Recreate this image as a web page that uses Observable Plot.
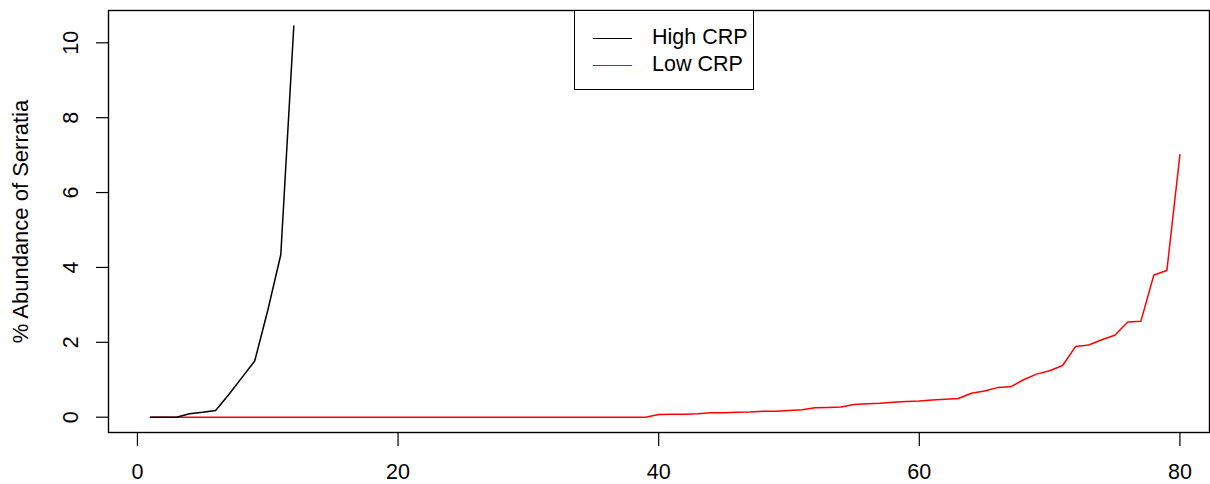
<!DOCTYPE html>
<html>
<head>
<meta charset="utf-8">
<script src="https://cdn.jsdelivr.net/npm/d3@7"></script>
<script src="https://cdn.jsdelivr.net/npm/@observablehq/plot@0.6"></script>
<style>
  html, body { margin: 0; padding: 0; background: #fff; }
  #wrap { position: relative; width: 1210px; height: 484px; font-family: "Liberation Sans", Arial, sans-serif; }
  #legend { position: absolute; left: 574px; top: 10px; width: 180px; height: 80px; box-sizing: border-box;
            border: 1.3px solid #000; background: #fff; }
  .row { position: absolute; left: 0; height: 0; }
  .seg { position: absolute; left: 18px; width: 39px; top: 0; border-top: 1.3px solid #000; }
  .lab { position: absolute; left: 77px; top: -13px; font-size: 21.5px; line-height: 25px; white-space: nowrap; color: #000; }
</style>
</head>
<body>
<div id="wrap"></div>
<script>
// Series values (index = sample rank, starting at 1)
const highCRP = [0, 0, 0, 0.09, 0.13, 0.18, 0.6, 1.05, 1.5, 2.85, 4.34, 10.45];
const lowCRPZeros = 39;
const lowCRPNonZero = [0.07, 0.08, 0.08, 0.09, 0.12, 0.12, 0.13, 0.14, 0.16, 0.16,
  0.18, 0.20, 0.25, 0.26, 0.27, 0.34, 0.36, 0.37, 0.40, 0.42,
  0.43, 0.46, 0.48, 0.50, 0.64, 0.70, 0.79, 0.81, 1.00, 1.15,
  1.24, 1.38, 1.89, 1.93, 2.07, 2.19, 2.54, 2.56, 3.80, 3.92, 7.01];
const lowCRP = Array(lowCRPZeros).fill(0).concat(lowCRPNonZero);
const seriesNames = ["High CRP", "Low CRP"];
const seriesColors = ["#000000", "#ff0000"];
const xTicks = [0, 20, 40, 60, 80];
const yTicks = [0, 2, 4, 6, 8, 10];
const yLabel = "% Abundance of Serratia";

const highData = highCRP.map((v, i) => ({x: i + 1, y: v}));
const lowData = lowCRP.map((v, i) => ({x: i + 1, y: v}));

const chart = Plot.plot({
  width: 1210,
  height: 484,
  marginLeft: 108,
  marginRight: 1,
  marginTop: 10,
  marginBottom: 52,
  style: {fontFamily: "Liberation Sans, Arial, sans-serif", fontSize: "21.5px", background: "#fff", color: "#000"},
  x: {domain: [-2.22, 82.27]},
  y: {domain: [-0.409, 10.863]},
  marks: [
    Plot.frame({stroke: "#000", strokeWidth: 1.4}),
    Plot.axisX({ticks: xTicks, tickSize: 14, tickPadding: 17, fontSize: 21.5, label: null, strokeWidth: 1.2}),
    Plot.axisY({ticks: yTicks, tickSize: 12, tickFormat: () => "", label: null, strokeWidth: 1.2}),
    Plot.text(yTicks, {y: d => d, text: d => String(d), frameAnchor: "left", dx: -37, rotate: -90,
      textAnchor: "middle", lineAnchor: "middle", fontSize: 21.5, fill: "#000"}),
    Plot.text([yLabel], {text: d => d, frameAnchor: "left", dx: -88, rotate: -90,
      textAnchor: "middle", lineAnchor: "middle", fontSize: 22, fill: "#000"}),
    Plot.line(lowData, {x: "x", y: "y", stroke: seriesColors[1], strokeWidth: 1.5}),
    Plot.line(highData, {x: "x", y: "y", stroke: seriesColors[0], strokeWidth: 1.5})
  ]
});

const wrap = document.getElementById("wrap");
wrap.appendChild(chart);

const legend = document.createElement("div");
legend.id = "legend";
seriesNames.forEach((name, i) => {
  const row = document.createElement("div");
  row.className = "row";
  row.style.top = (i === 0 ? 26.5 : 53.5) + "px";
  const seg = document.createElement("div");
  seg.className = "seg";
  seg.style.borderTopColor = seriesColors[i];
  const lab = document.createElement("div");
  lab.className = "lab";
  lab.textContent = name;
  row.appendChild(seg);
  row.appendChild(lab);
  legend.appendChild(row);
});
wrap.appendChild(legend);
</script>
</body>
</html>
